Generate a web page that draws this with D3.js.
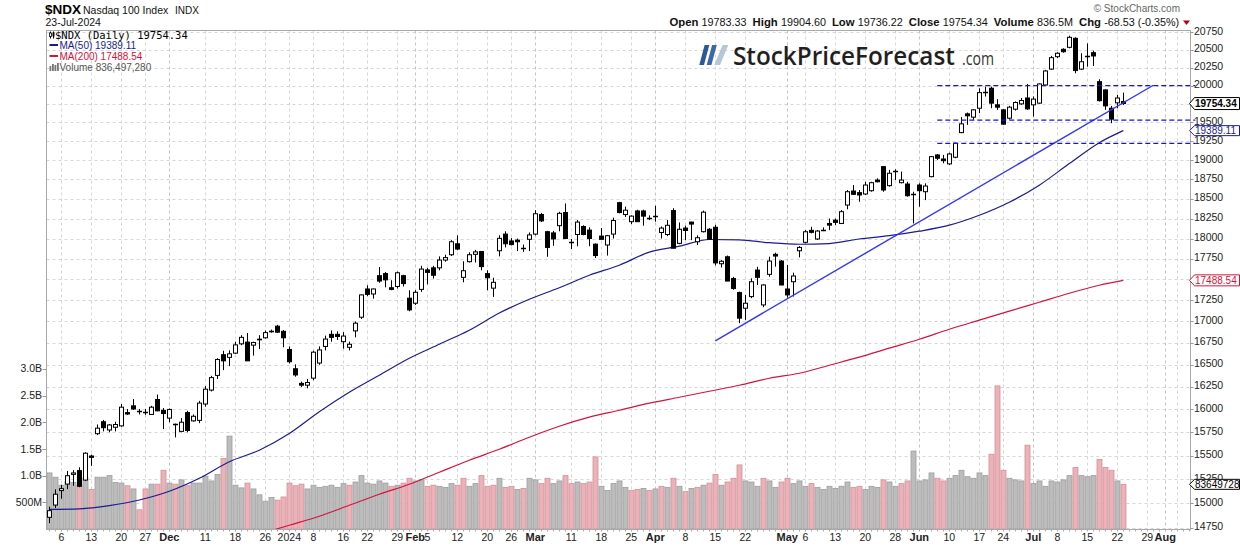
<!DOCTYPE html>
<html><head><meta charset="utf-8">
<script src="https://cdn.jsdelivr.net/npm/d3@7/dist/d3.min.js"></script>
<style>
body{margin:0;background:#fff;}
svg{display:block;}
text{font-family:"Liberation Sans",Arial,sans-serif;}
</style></head><body>
<svg id="c" width="1240" height="546"></svg>
<script>
// ---------------- DATA ----------------
const dates = [
"2023-11-02","2023-11-03","2023-11-06","2023-11-07","2023-11-08","2023-11-09","2023-11-10","2023-11-13","2023-11-14","2023-11-15","2023-11-16","2023-11-17","2023-11-20","2023-11-21","2023-11-22","2023-11-24","2023-11-27","2023-11-28","2023-11-29","2023-11-30",
"2023-12-01","2023-12-04","2023-12-05","2023-12-06","2023-12-07","2023-12-08","2023-12-11","2023-12-12","2023-12-13","2023-12-14","2023-12-15","2023-12-18","2023-12-19","2023-12-20","2023-12-21","2023-12-22","2023-12-26","2023-12-27","2023-12-28","2023-12-29",
"2024-01-02","2024-01-03","2024-01-04","2024-01-05","2024-01-08","2024-01-09","2024-01-10","2024-01-11","2024-01-12","2024-01-16","2024-01-17","2024-01-18","2024-01-19","2024-01-22","2024-01-23","2024-01-24","2024-01-25","2024-01-26","2024-01-29","2024-01-30","2024-01-31",
"2024-02-01","2024-02-02","2024-02-05","2024-02-06","2024-02-07","2024-02-08","2024-02-09","2024-02-12","2024-02-13","2024-02-14","2024-02-15","2024-02-16","2024-02-20","2024-02-21","2024-02-22","2024-02-23","2024-02-26","2024-02-27","2024-02-28","2024-02-29",
"2024-03-01","2024-03-04","2024-03-05","2024-03-06","2024-03-07","2024-03-08","2024-03-11","2024-03-12","2024-03-13","2024-03-14","2024-03-15","2024-03-18","2024-03-19","2024-03-20","2024-03-21","2024-03-22","2024-03-25","2024-03-26","2024-03-27","2024-03-28",
"2024-04-01","2024-04-02","2024-04-03","2024-04-04","2024-04-05","2024-04-08","2024-04-09","2024-04-10","2024-04-11","2024-04-12","2024-04-15","2024-04-16","2024-04-17","2024-04-18","2024-04-19","2024-04-22","2024-04-23","2024-04-24","2024-04-25","2024-04-26","2024-04-29","2024-04-30",
"2024-05-01","2024-05-02","2024-05-03","2024-05-06","2024-05-07","2024-05-08","2024-05-09","2024-05-10","2024-05-13","2024-05-14","2024-05-15","2024-05-16","2024-05-17","2024-05-20","2024-05-21","2024-05-22","2024-05-23","2024-05-24","2024-05-28","2024-05-29","2024-05-30","2024-05-31",
"2024-06-03","2024-06-04","2024-06-05","2024-06-06","2024-06-07","2024-06-10","2024-06-11","2024-06-12","2024-06-13","2024-06-14","2024-06-17","2024-06-18","2024-06-20","2024-06-21","2024-06-24","2024-06-25","2024-06-26","2024-06-27","2024-06-28",
"2024-07-01","2024-07-02","2024-07-03","2024-07-05","2024-07-08","2024-07-09","2024-07-10","2024-07-11","2024-07-12","2024-07-15","2024-07-16","2024-07-17","2024-07-18","2024-07-19","2024-07-22","2024-07-23"
];
// future trading days shown as empty space on the right of the chart
const futureDates = ["2024-07-24","2024-07-25","2024-07-26","2024-07-29","2024-07-30","2024-07-31","2024-08-01","2024-08-02","2024-08-05","2024-08-06","2024-08-07","2024-08-08","2024-08-09"];

const open = [
14854,14980,15130,15198,15300,15340,15240,15495,15735,15865,15775,15805,15820,15965,16040,15980,15975,15945,16110,15990,
15905,15835,15760,15965,15875,15880,16060,16215,16380,16615,16585,16633,16740,16760,16725,16790,16810,16885,16945,16885,
16675,16455,16290,16270,16349,16520,16710,16850,16850,16765,16700,16890,17050,17385,17325,17545,17570,17400,17415,17545,17275,
17215,17380,17615,17640,17640,17735,17800,17935,17525,17715,17805,17840,17570,17395,17849,18055,17970,17980,17890,17990,
18055,18300,18085,18070,18160,18325,17955,18050,18150,18105,17930,18030,17920,18055,18450,18300,18210,18345,18345,18265,
18280,18075,18050,18350,17940,18130,18205,17960,18085,18115,18140,17690,17775,17510,17342,17156,17294,17613,17195,17561,17805,17723,
17385,17472,17849,17953,18102,17994,18118,18188,18229,18188,18420,18599,18578,18561,18603,18740,18914,18668,18860,18706,18689,18560,
18676,18590,18784,19067,19014,18950,19037,19363,19615,19570,19691,19912,19964,19737,19669,19556,19678,19750,19830,
19737,19760,20009,20229,20403,20507,20535,20663,20229,20405,20459,20055,19941,19691,19764,19783.33
];
const high = [
14963,15143,15190,15336,15345,15375,15535,15510,15835,15885,15840,15865,16060,16005,16115,16005,16005,16040,16165,16015,
16010,15845,15905,15985,15945,16095,16260,16375,16575,16660,16665,16765,16840,16865,16765,16840,16895,16905,16960,16900,
16710,16505,16310,16340,16660,16710,16835,16895,16885,16875,16765,17000,17320,17430,17390,17650,17590,17490,17595,17555,17370,
17370,17665,17640,17665,17780,17800,17980,18040,17720,17830,17860,17845,17610,17520,18040,18090,18005,18000,17925,18075,
18355,18320,18095,18095,18335,18440,17995,18230,18165,18140,17940,18130,18045,18260,18460,18400,18290,18360,18360,18290,
18410,18150,18230,18380,18200,18160,18210,18040,18350,18130,18170,17735,17790,17530,17354,17314,17513,17652,17441,17776,17825,17735,
17674,17581,17906,18105,18146,18105,18139,18250,18250,18357,18612,18676,18612,18718,18718,18762,18923,18871,18880,18850,18718,18590,
18698,18698,19053,19080,19067,19097,19230,19571,19633,19678,19964,19986,19986,19815,19678,19723,19783,19830,20023,
19851,20030,20217,20413,20465,20521,20700,20677,20451,20590,20487,20088,19950,19723,19873,19904.60
];
const low = [
14794,14948,15045,15145,15180,15165,15230,15390,15720,15760,15750,15760,15810,15940,15995,15945,15940,15940,15980,15785,
15860,15695,15750,15750,15865,15850,16030,16200,16340,16440,16485,16625,16725,16545,16605,16680,16800,16870,16865,16700,
16515,16365,16250,16235,16325,16500,16665,16765,16785,16685,16665,16815,17030,17300,17270,17460,17405,17370,17390,17415,17120,
17195,17350,17440,17510,17610,17715,17785,17855,17465,17705,17705,17610,17370,17290,17780,17890,17915,17845,17835,17845,
18040,18205,17775,17910,18090,18000,17870,17905,18040,17905,17760,17990,17790,18000,18315,18270,18180,18210,18160,18230,
18210,18000,18030,17880,17930,17980,17980,17920,18075,17990,17670,17645,17480,17375,16980,17019,17275,17433,17168,17532,17654,17430,
17282,17294,17768,17940,18064,17982,18093,18105,18167,18180,18366,18548,18462,18548,18590,18711,18590,18655,18740,18698,18526,18188,
18399,18483,18776,19001,18958,18937,19024,19355,19467,19534,19624,19850,19691,19669,19467,19538,19659,19737,19669,
19577,19750,20000,20217,20381,20459,20521,20171,20217,20264,20273,19781,19669,19489,19691,19736.22
];
const close = [
14922,15092,15150,15286,15315,15175,15525,15480,15795,15800,15830,15835,16025,15950,16005,15985,15970,16025,15985,15955,
16000,15840,15860,15770,15925,16070,16225,16355,16560,16545,16625,16728,16815,16545,16755,16795,16870,16890,16875,16810,
16535,16385,16270,16300,16644,16670,16795,16815,16825,16830,16735,16980,17314,17320,17385,17480,17495,17380,17580,17450,17136,
17345,17625,17585,17550,17735,17765,17960,17870,17605,17800,17835,17655,17520,17465,18002,17935,17925,17960,17880,18045,
18310,18220,17890,17995,18315,18000,17950,18205,18050,18000,17790,17990,18035,18225,18325,18355,18280,18210,18280,18260,
18285,18130,18165,17880,18115,18100,18180,18010,18330,17990,17700,17720,17480,17390,17039,17215,17472,17525,17433,17723,17784,17433,
17314,17541,17890,18084,18077,18093,18105,18167,18201,18336,18590,18557,18548,18676,18706,18718,18612,18828,18855,18740,18539,18550,
18603,18663,19045,19024,18992,19080,19222,19480,19588,19669,19904,19918,19760,19705,19476,19705,19769,19796,19682,
19815,20023,20203,20389,20451,20473,20677,20209,20332,20413,20413,19794,19723,19543,19830,19754.34
];
// volume, millions of shares
const volumeM = [
1050,970,820,890,870,820,960,740,970,970,1000,870,860,810,750,360,750,840,840,1100,
860,840,920,810,860,860,990,900,1020,1320,1740,820,770,860,750,640,520,590,540,600,
860,810,840,750,820,780,800,820,780,850,820,880,1000,860,840,900,860,800,820,860,950,
900,920,800,820,800,780,850,820,950,800,850,1000,800,820,950,780,800,740,760,950,
920,850,950,850,900,1000,850,880,850,880,1350,800,720,850,900,780,720,740,760,720,
750,800,780,950,800,700,760,780,820,860,1020,820,880,950,1200,900,880,800,950,900,780,880,
950,850,900,800,850,780,740,800,760,800,880,780,800,740,800,780,920,880,800,850,900,1460,
900,920,1050,950,900,950,1000,1100,980,950,1050,1000,1400,2680,1100,950,920,900,1570,
850,900,800,900,880,920,1000,1150,1000,980,1000,1300,1150,1100,900,836.49728
];
const ma50Dates = ["2023-11-02","2023-11-09","2023-11-16","2023-11-24","2023-12-01","2023-12-08","2023-12-15","2023-12-22","2024-01-02","2024-01-09","2024-01-17","2024-01-24","2024-01-31","2024-02-07","2024-02-14","2024-02-22","2024-02-29","2024-03-07","2024-03-14","2024-03-21","2024-03-28","2024-04-05","2024-04-12","2024-04-19","2024-04-26","2024-05-03","2024-05-10","2024-05-17","2024-05-24","2024-06-03","2024-06-10","2024-06-17","2024-06-25","2024-07-02","2024-07-10","2024-07-17","2024-07-23"];
const ma50Values = [14935,14941,14974,15032,15123,15259,15434,15557,15737,15974,16191,16382,16575,16736,16898,17099,17263,17399,17550,17672,17832,17905,17988,17983,17948,17929,17938,17994,18035,18091,18166,18291,18456,18674,18954,19229,19389.11];
const ma200Dates = ["2023-12-22","2024-01-02","2024-01-09","2024-01-17","2024-01-24","2024-01-31","2024-02-07","2024-02-14","2024-02-22","2024-02-29","2024-03-07","2024-03-14","2024-03-21","2024-03-28","2024-04-05","2024-04-12","2024-04-19","2024-04-26","2024-05-03","2024-05-10","2024-05-17","2024-05-24","2024-06-03","2024-06-10","2024-06-17","2024-06-25","2024-07-02","2024-07-10","2024-07-17","2024-07-23"];
const ma200Values = [14682,14773,14865,14978,15092,15196,15323,15450,15567,15697,15816,15915,15991,16069,16135,16202,16269,16348,16404,16495,16587,16690,16793,16909,17015,17121,17227,17334,17430,17488.54];
// annotations
const trendDates = ["2024-04-15","2024-07-30"];
const trendValues = [16775,20005];
const levelValues = [20000,19530,19220];
const levelDates = ["2024-06-06","2024-08-08"];
// axes
const priceTicks = d3.range(14750, 20751, 250);
const volTicks = [500,1000,1500,2000,2500,3000];
const volTickLabels = ["500M","1.0B","1.5B","2.0B","2.5B","3.0B"];
const tickDates = ["2023-11-06","2023-11-13","2023-11-20","2023-11-27","2023-12-01","2023-12-11","2023-12-18","2023-12-26","2024-01-02","2024-01-08","2024-01-16","2024-01-22","2024-01-29","2024-02-01","2024-02-05","2024-02-12","2024-02-20","2024-02-26","2024-03-01","2024-03-11","2024-03-18","2024-03-25","2024-04-01","2024-04-08","2024-04-15","2024-04-22","2024-05-01","2024-05-06","2024-05-13","2024-05-20","2024-05-28","2024-06-03","2024-06-10","2024-06-17","2024-06-24","2024-07-01","2024-07-08","2024-07-15","2024-07-22","2024-07-29","2024-08-01"];
const tickLabels = ["6","13","20","27","Dec","11","18","26","2024","8","16","22","29","Feb","5","12","20","26","Mar","11","18","25","Apr","8","15","22","May","6","13","20","28","Jun","10","17","24","Jul","8","15","22","29","Aug"];
const extraGridDates = ["2024-08-05"];

// ---------------- CHART ----------------
const svg = d3.select('#c');
const L = 46.5, R = 1190.5, T = 30.5, B = 529.5;
const allDates = dates.concat(futureDates);
const idx = new Map(allDates.map((d,i)=>[d,i]));
const n = dates.length;
const last = n-1;
const x = d3.scaleLinear().domain([0, n-1]).range([49.3, 1123.3]);
const y = d3.scaleLog().domain([14750, 20750]).range([527.5, 32.2]);
const yv = d3.scaleLinear().domain([0, 3000]).range([529, 368.8]);
const px = i => Math.round(x(i)) + 0.5;

svg.append('rect').attr('width',1240).attr('height',546).attr('fill','#fff');
svg.append('defs').append('clipPath').attr('id','plot')
  .append('rect').attr('x',L).attr('y',T).attr('width',R-L).attr('height',B-T);

const isMonth = l => isNaN(+l);

// grid
const grid = svg.append('g').attr('clip-path','url(#plot)');
grid.selectAll('line.h').data(priceTicks).join('line')
  .attr('x1',L).attr('x2',R).attr('y1',d=>Math.round(y(d))+0.5).attr('y2',d=>Math.round(y(d))+0.5)
  .attr('stroke','#d6d6d6').attr('stroke-dasharray','3,3');
const gridIdx = tickDates.map((d,k)=>({i:idx.get(d), m:isMonth(tickLabels[k])}))
  .concat(extraGridDates.map(d=>({i:idx.get(d), m:false})));
grid.selectAll('line.v').data(gridIdx).join('line')
  .attr('x1',d=>px(d.i)).attr('x2',d=>px(d.i)).attr('y1',T).attr('y2',B)
  .attr('stroke',d=>d.m?'#c4c4c4':'#d6d6d6').attr('stroke-dasharray','3,3');

// volume
const vol = svg.append('g').attr('clip-path','url(#plot)');
vol.selectAll('rect').data(d3.range(n)).join('rect')
  .attr('x',i=>px(i)-2.5).attr('width',5)
  .attr('y',i=>yv(volumeM[i])).attr('height',i=>yv(0)-yv(volumeM[i]))
  .attr('fill',i=>(i>0 && close[i]<close[i-1])?'#eab3ba':'#bcbcbc')
  .attr('stroke',i=>(i>0 && close[i]<close[i-1])?'#d68e98':'#9d9d9d').attr('stroke-width',0.8);

// moving averages
const lines = svg.append('g').attr('clip-path','url(#plot)');
const ln = d3.line().x(d=>x(d[0])).y(d=>y(d[1])).curve(d3.curveMonotoneX);
lines.append('path').attr('d', ln(ma200Dates.map((d,k)=>[idx.get(d), ma200Values[k]])))
  .attr('fill','none').attr('stroke','#d2143c').attr('stroke-width',1.2);
lines.append('path').attr('d', ln(ma50Dates.map((d,k)=>[idx.get(d), ma50Values[k]])))
  .attr('fill','none').attr('stroke','#1c1c8e').attr('stroke-width',1.2);

// candles
const cg = svg.append('g').attr('clip-path','url(#plot)');
d3.range(n).forEach(i=>{
  const cx = px(i);
  cg.append('line').attr('x1',cx).attr('x2',cx).attr('y1',y(high[i])).attr('y2',y(low[i]))
    .attr('stroke','#000').attr('stroke-width',1);
  const yo = y(open[i]), yc = y(close[i]);
  const top = Math.min(yo,yc), h = Math.abs(yo-yc);
  if (h < 1.2) {
    cg.append('line').attr('x1',cx-2.5).attr('x2',cx+2.5).attr('y1',Math.round((yo+yc)/2)+0.5).attr('y2',Math.round((yo+yc)/2)+0.5)
      .attr('stroke','#000').attr('stroke-width',1.6);
  } else {
    cg.append('rect').attr('x',cx-2).attr('width',4).attr('y',top).attr('height',h)
      .attr('fill', close[i]>=open[i] ? '#fff' : '#000').attr('stroke','#000').attr('stroke-width',1);
  }
});

// annotations
const an = svg.append('g');
an.append('line')
  .attr('x1',x(idx.get(trendDates[0]))).attr('y1',y(trendValues[0]))
  .attr('x2',x(idx.get(trendDates[1]))).attr('y2',y(trendValues[1]))
  .attr('stroke','#3535f5').attr('stroke-width',1.4);
an.selectAll('line.lv').data(levelValues).join('line')
  .attr('x1',x(idx.get(levelDates[0]))).attr('x2',x(idx.get(levelDates[1])))
  .attr('y1',d=>y(d)).attr('y2',d=>y(d))
  .attr('stroke','#1515d8').attr('stroke-width',1.3).attr('stroke-dasharray','5,3');

// frame
svg.append('rect').attr('x',L).attr('y',T).attr('width',R-L).attr('height',B-T)
  .attr('fill','none').attr('stroke','#a9a9a9');

// right price axis (labels hidden where a value tag sits on them)
const tagYs = [y(close[last]), y(ma200Values[ma200Values.length-1])];
const ra = svg.append('g');
priceTicks.forEach(t=>{
  const yy = Math.round(y(t))+0.5;
  ra.append('line').attr('x1',R).attr('x2',R+3).attr('y1',yy).attr('y2',yy).attr('stroke','#999');
  if (tagYs.some(ty=>Math.abs(ty-y(t))<4)) return;
  ra.append('text').attr('x',R+3.5).attr('y',y(t)+2.5).attr('font-size','10.5px').attr('fill','#222').text(t);
});
// left volume axis
volTicks.forEach((t,k)=>{
  const yy = Math.round(yv(t))+0.5;
  svg.append('line').attr('x1',L-4).attr('x2',L).attr('y1',yy).attr('y2',yy).attr('stroke','#999');
  svg.append('text').attr('x',L-4.5).attr('y',yv(t)+3.6).attr('text-anchor','end')
    .attr('font-size','10.5px').attr('fill','#222').text(volTickLabels[k]);
});
// bottom axis: daily ticks and labels
for (let i=0;i<allDates.length;i++){
  if (x(i) > R) break;
  svg.append('line').attr('x1',px(i)).attr('x2',px(i)).attr('y1',B).attr('y2',B+2).attr('stroke','#aaa');
}
tickDates.forEach((d,k)=>{
  const m = isMonth(tickLabels[k]);
  svg.append('text').attr('x',x(idx.get(d))).attr('y',540.5).attr('text-anchor','middle')
    .attr('font-size', m?'11px':'10.5px').attr('font-weight', m?'bold':'normal').attr('fill','#222')
    .text(tickLabels[k]);
});

// right value tags
function tag(cy, label, color, bold, fontSize, hh, dy){
  const g = svg.append('g');
  g.append('path').attr('d',`M${R-1},${cy} L${R+4},${cy-hh} L1239.5,${cy-hh} L1239.5,${cy+hh} L${R+4},${cy+hh} Z`)
    .attr('fill','#fff').attr('stroke',color).attr('stroke-width',1);
  g.append('text').attr('x',R+4.5).attr('y',cy+dy).attr('font-size',fontSize).attr('font-weight',bold?'bold':'normal')
    .attr('fill',color).text(label);
}
tag(y(close[last]), close[last].toFixed(2), '#000', true, '10px', 6, 3.6);
tag(y(ma50Values[ma50Values.length-1]), ma50Values[ma50Values.length-1].toFixed(2), '#1c1c8e', false, '10px', 5, 3.2);
tag(y(ma200Values[ma200Values.length-1]), ma200Values[ma200Values.length-1].toFixed(2), '#d2143c', false, '10px', 5.5, 3.6);
tag(yv(volumeM[last]), String(Math.round(volumeM[last]*1e6)), '#000', false, '10px', 5, 3.6);

// header left
svg.append('text').attr('x',45).attr('y',14).attr('font-size','13.5px').attr('font-weight','bold').attr('fill','#000').text('$NDX');
svg.append('text').attr('x',83).attr('y',14).attr('font-size','10.5px').attr('fill','#111').text('Nasdaq 100 Index');
svg.append('text').attr('x',175).attr('y',14).attr('font-size','10px').attr('fill','#111').text('INDX');
svg.append('text').attr('x',45.5).attr('y',26).attr('font-size','10.5px').attr('fill','#111').text('23-Jul-2024');

// header right
const fmt2 = d3.format('.2f');
const hdr = svg.append('text').attr('x',669.5).attr('y',26).attr('font-size','11px').attr('fill','#111');
const segs = [['Open ',1],[fmt2(open[last])+'  ',0],['High ',1],[fmt2(high[last])+'  ',0],['Low ',1],[fmt2(low[last])+'  ',0],
  ['Close ',1],[fmt2(close[last])+'  ',0],['Volume ',1],[(volumeM[last]).toFixed(1)+'M  ',0],['Chg ',1],['-68.53 (-0.35%)',0]];
segs.forEach(s=>hdr.append('tspan').attr('font-weight',s[1]?'bold':'normal').attr('font-size',s[1]?'11px':'10.5px').text(s[0]));
hdr.attr('xml:space','preserve').style('white-space','pre');
const hw = hdr.node().getComputedTextLength();
hdr.attr('transform',`translate(669.5,0) scale(${(1180-669.5)/hw},1) translate(-669.5,0)`);
svg.append('path').attr('d','M1183,20.5 L1190,20.5 L1186.5,25 Z').attr('fill','#b0001e');
svg.append('text').attr('x',1180).attr('y',12).attr('text-anchor','end').attr('font-size','10px').attr('fill','#666').text('\u00A9 StockCharts.com');

// legend inside plot
const lgd = svg.append('g');
lgd.append('line').attr('x1',50.5).attr('x2',50.5).attr('y1',31.5).attr('y2',38.5).attr('stroke','#000');
lgd.append('rect').attr('x',49.5).attr('y',33).attr('width',2).attr('height',3.5).attr('fill','#fff').attr('stroke','#000').attr('stroke-width',0.8);
lgd.append('line').attr('x1',53.5).attr('x2',53.5).attr('y1',31.5).attr('y2',38.5).attr('stroke','#000');
lgd.append('rect').attr('x',52.5).attr('y',32.5).attr('width',2).attr('height',4).attr('fill','#000');
lgd.append('text').attr('x',55).attr('y',38.5).style('font-family','"DejaVu Sans Mono",monospace').attr('font-size','10.5px').attr('fill','#000')
  .text('$NDX (Daily) ' + close[last].toFixed(2));
lgd.append('rect').attr('x',49.5).attr('y',44).attr('width',8.5).attr('height',2).attr('fill','#1c1c8e');
lgd.append('text').attr('x',59.5).attr('y',49.3).attr('font-size','10px').attr('fill','#1c1c8e').text('MA(50) ' + ma50Values[ma50Values.length-1].toFixed(2));
lgd.append('rect').attr('x',49.5).attr('y',55).attr('width',8.5).attr('height',2).attr('fill','#d2143c');
lgd.append('text').attr('x',59.5).attr('y',60).attr('font-size','10px').attr('fill','#d2143c').text('MA(200) ' + ma200Values[ma200Values.length-1].toFixed(2));
[[49.5,66],[52,64],[54.5,65],[57,63]].forEach(b=>lgd.append('rect').attr('x',b[0]).attr('y',b[1]).attr('width',1.8).attr('height',71-b[1]).attr('fill','#777'));
lgd.append('text').attr('x',59.5).attr('y',70.7).attr('font-size','10px').attr('fill','#555').text('Volume ' + d3.format(',')(Math.round(volumeM[last]*1e6)));

// logo (texts scaled horizontally to fit the measured widths)
const logo = svg.append('g');
logo.append('path').attr('d','M699.3,65 L704,65 L709.3,45 L704.6,45 Z').attr('fill','#2c5897');
logo.append('path').attr('d','M706.7,65 L711.4,65 L716.8,45 L712.1,45 Z').attr('fill','#3b68a9');
logo.append('path').attr('d','M714.3,65 L720,65 L728.3,45 L722.6,45 Z').attr('fill','#b7c7d7');
function fitText(sel, x0, w){
  const nat = sel.node().getComputedTextLength();
  sel.attr('transform',`translate(${x0},0) scale(${w/nat},1) translate(${-x0},0)`);
}
const lt1 = logo.append('text').attr('x',733).attr('y',65).style('font-family','"Open Sans",sans-serif').attr('font-weight',600).attr('font-size','26px')
  .attr('fill','#231f20').text('StockPriceForecast');
fitText(lt1, 733, 222);
const lt2 = logo.append('text').attr('x',962).attr('y',65).style('font-family','"Open Sans",sans-serif').attr('font-size','19px')
  .attr('fill','#333').text('.com');
fitText(lt2, 962, 32);
</script>
</body></html>
